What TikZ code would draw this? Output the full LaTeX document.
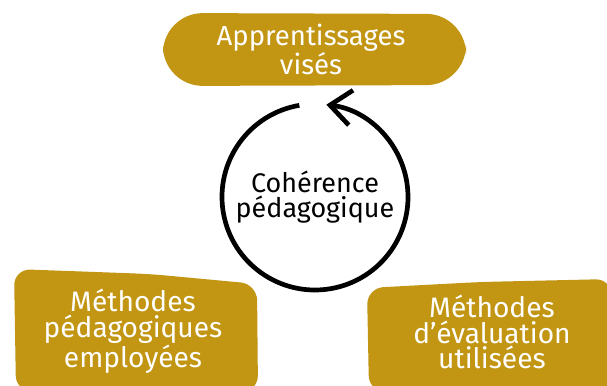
\documentclass[tikz,border=0pt]{standalone}
\usepackage{fontspec}
\setmainfont{Fira Sans}
\usetikzlibrary{arrows.meta}

\definecolor{ochre}{RGB}{194,149,19}

\begin{document}
\begin{tikzpicture}[x=0.03cm, y=0.03cm,
    blob/.style={fill=ochre, rounded corners=14},
    boxtext/.style={text=white, align=center, font=\fontsize{24}{22}\selectfont},
    cycletext/.style={text=black, align=center, font=\fontsize{23}{21}\selectfont},
    ]
  \useasboundingbox (0,0) rectangle (607,-385);

  % shapes
  \fill[blob, rounded corners=34] (163,-13) -- (466,-14) -- (466,-85) -- (163,-86) -- cycle;
  \fill[blob] (14,-269) -- (150,-274) -- (257,-284) -- (258,-392) -- (16,-392) -- cycle;
  \fill[blob] (367,-288) -- (480,-282) -- (612,-279) -- (612,-392) -- (369,-392) -- cycle;

  % texts
  \node[boxtext, font=\fontsize{23.5}{20.5}\selectfont] (apprentissages) at (311,-49) {Apprentissages\\visés};
  \node[boxtext] (methpeda) at (133,-331) {Méthodes\\pédagogiques\\employées};
  \node[boxtext] (metheval) at (492,-332) {Méthodes\\d'évaluation\\utilisées};
  \node[cycletext] (coherence) at (315,-197) {Cohérence\\pédagogique};

  % cycle arrow
  \draw[line width=4pt, -{Straight Barb[length=18pt, width=30pt, line width=4pt]}]
    (coherence.center) ++(99.7:2.79cm) arc[start angle=99.7, end angle=443, radius=2.79cm];
\end{tikzpicture}
\end{document}
